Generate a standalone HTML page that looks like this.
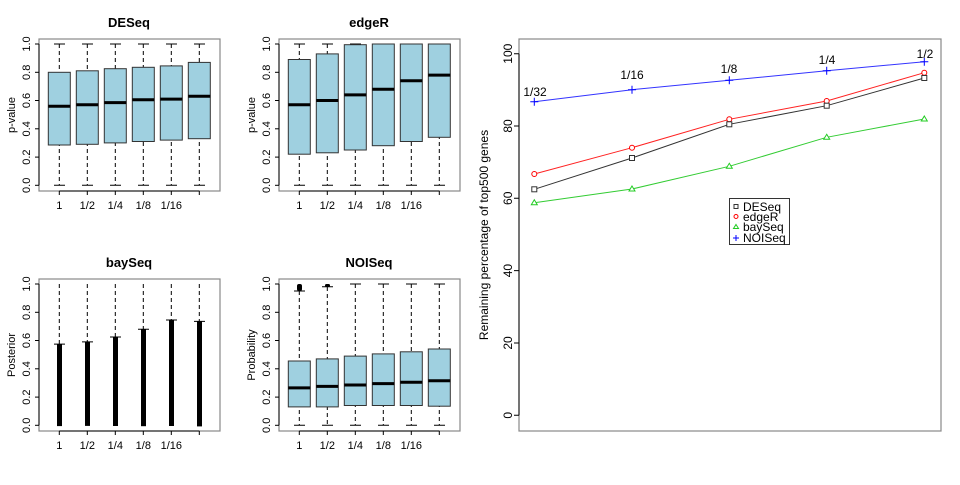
<!DOCTYPE html>
<html><head><meta charset="utf-8"><style>
html,body{margin:0;padding:0;background:#fff}
text{font-family:"Liberation Sans",Arial,sans-serif}
</style></head><body>
<svg width="960" height="480" viewBox="0 0 960 480" xmlns="http://www.w3.org/2000/svg">
<defs>
<g id="frame">
  <rect x="39" y="39" width="181" height="152" fill="none" stroke="#888" stroke-width="1.2"/>
  <g stroke="#000" stroke-width="1">
    <line x1="39" y1="44" x2="39" y2="185.3"/>
    <line x1="35" y1="44" x2="39" y2="44"/><line x1="35" y1="72.3" x2="39" y2="72.3"/>
    <line x1="35" y1="100.5" x2="39" y2="100.5"/><line x1="35" y1="128.8" x2="39" y2="128.8"/>
    <line x1="35" y1="157.1" x2="39" y2="157.1"/><line x1="35" y1="185.3" x2="39" y2="185.3"/>
    <line x1="59.3" y1="191" x2="199.3" y2="191"/>
    <line x1="59.3" y1="191" x2="59.3" y2="195"/><line x1="87.3" y1="191" x2="87.3" y2="195"/>
    <line x1="115.3" y1="191" x2="115.3" y2="195"/><line x1="143.3" y1="191" x2="143.3" y2="195"/>
    <line x1="171.3" y1="191" x2="171.3" y2="195"/><line x1="199.3" y1="191" x2="199.3" y2="195"/>
  </g>
  <g font-size="11" text-anchor="middle" fill="#000">
    <text transform="translate(30,44) rotate(-90)">1.0</text>
    <text transform="translate(30,72.3) rotate(-90)">0.8</text>
    <text transform="translate(30,100.5) rotate(-90)">0.6</text>
    <text transform="translate(30,128.8) rotate(-90)">0.4</text>
    <text transform="translate(30,157.1) rotate(-90)">0.2</text>
    <text transform="translate(30,185.3) rotate(-90)">0.0</text>
    <text x="59.3" y="209">1</text><text x="87.3" y="209">1/2</text>
    <text x="115.3" y="209">1/4</text><text x="143.3" y="209">1/8</text>
    <text x="171.3" y="209">1/16</text>
  </g>
</g>
</defs>

<!-- DESeq -->
<g>
<use href="#frame"/>
<text x="129" y="27" font-size="13" font-weight="bold" text-anchor="middle">DESeq</text>
<text transform="translate(15,115) rotate(-90)" font-size="11" text-anchor="middle">p-value</text>
<g stroke="#000" stroke-width="1" stroke-dasharray="4,3">
<line x1="59.3" y1="44" x2="59.3" y2="185.3"/><line x1="87.3" y1="44" x2="87.3" y2="185.3"/>
<line x1="115.3" y1="44" x2="115.3" y2="185.3"/><line x1="143.3" y1="44" x2="143.3" y2="185.3"/>
<line x1="171.3" y1="44" x2="171.3" y2="185.3"/><line x1="199.3" y1="44" x2="199.3" y2="185.3"/>
</g>
<g stroke="#000" stroke-width="1">
<path d="M54 44h11M54 185.3h11M82 44h11M82 185.3h11M110 44h11M110 185.3h11M138 44h11M138 185.3h11M166 44h11M166 185.3h11M194 44h11M194 185.3h11"/>
</g>
<g fill="#9fd0e0" stroke="#333" stroke-width="1">
<rect x="48.3" y="72.3" width="22" height="72.7"/>
<rect x="76.3" y="70.8" width="22" height="73.5"/>
<rect x="104.3" y="68.7" width="22" height="74.2"/>
<rect x="132.3" y="67.3" width="22" height="74.2"/>
<rect x="160.3" y="65.9" width="22" height="74.2"/>
<rect x="188.3" y="62.4" width="22" height="76.3"/>
</g>
<g stroke="#000" stroke-width="3">
<path d="M48.3 106.2h22M76.3 104.8h22M104.3 102.6h22M132.3 99.8h22M160.3 99.1h22M188.3 96.3h22"/>
</g>
</g>

<!-- edgeR -->
<g transform="translate(240,0)">
<use href="#frame"/>
<text x="129" y="27" font-size="13" font-weight="bold" text-anchor="middle">edgeR</text>
<text transform="translate(15,115) rotate(-90)" font-size="11" text-anchor="middle">p-value</text>
<g stroke="#000" stroke-width="1" stroke-dasharray="4,3">
<line x1="59.3" y1="44" x2="59.3" y2="185.3"/><line x1="87.3" y1="44" x2="87.3" y2="185.3"/>
<line x1="115.3" y1="44" x2="115.3" y2="185.3"/><line x1="143.3" y1="44" x2="143.3" y2="185.3"/>
<line x1="171.3" y1="44" x2="171.3" y2="185.3"/><line x1="199.3" y1="44" x2="199.3" y2="185.3"/>
</g>
<g stroke="#000" stroke-width="1">
<path d="M54 44h11M54 185.3h11M82 44h11M82 185.3h11M110 44h11M110 185.3h11M138 44h11M138 185.3h11M166 44h11M166 185.3h11M194 44h11M194 185.3h11"/>
</g>
<g fill="#9fd0e0" stroke="#333" stroke-width="1">
<rect x="48.3" y="59.5" width="22" height="94.7"/>
<rect x="76.3" y="53.9" width="22" height="98.9"/>
<rect x="104.3" y="44.7" width="22" height="105.3"/>
<rect x="132.3" y="44" width="22" height="101.7"/>
<rect x="160.3" y="44" width="22" height="97.5"/>
<rect x="188.3" y="44" width="22" height="93.3"/>
</g>
<g stroke="#000" stroke-width="3">
<path d="M48.3 104.8h22M76.3 100.5h22M104.3 94.9h22M132.3 89.2h22M160.3 80.7h22M188.3 75.1h22"/>
</g>
</g>

<!-- baySeq -->
<g transform="translate(0,240)">
<use href="#frame"/>
<text x="129" y="27" font-size="13" font-weight="bold" text-anchor="middle">baySeq</text>
<text transform="translate(15,115) rotate(-90)" font-size="11" text-anchor="middle">Posterior</text>
<g stroke="#000" stroke-width="1" stroke-dasharray="4,3">
<line x1="59.3" y1="44" x2="59.3" y2="104"/><line x1="87.3" y1="44" x2="87.3" y2="102"/>
<line x1="115.3" y1="44" x2="115.3" y2="97"/><line x1="143.3" y1="44" x2="143.3" y2="89"/>
<line x1="171.3" y1="44" x2="171.3" y2="80"/><line x1="199.3" y1="44" x2="199.3" y2="81"/>
</g>
<g fill="#000">
<rect x="57" y="104.1" width="5" height="82"/>
<rect x="85" y="101.9" width="5" height="84"/>
<rect x="113" y="97" width="5" height="89"/>
<rect x="141" y="89.2" width="5" height="97"/>
<rect x="169" y="80" width="5" height="106"/>
<rect x="197" y="81.4" width="5" height="105"/>
</g>
<g stroke="#000" stroke-width="1">
<path d="M54 104.1h11M82 101.9h11M110 97h11M138 89.2h11M166 80h11M194 81.4h11"/>
</g>
</g>

<!-- NOISeq -->
<g transform="translate(240,240)">
<use href="#frame"/>
<text x="129" y="27" font-size="13" font-weight="bold" text-anchor="middle">NOISeq</text>
<text transform="translate(15,115) rotate(-90)" font-size="11" text-anchor="middle">Probability</text>
<g stroke="#000" stroke-width="1" stroke-dasharray="4,3">
<line x1="59.3" y1="51" x2="59.3" y2="185.3"/><line x1="87.3" y1="47" x2="87.3" y2="185.3"/>
<line x1="115.3" y1="44" x2="115.3" y2="185.3"/><line x1="143.3" y1="44" x2="143.3" y2="185.3"/>
<line x1="171.3" y1="44" x2="171.3" y2="185.3"/><line x1="199.3" y1="44" x2="199.3" y2="185.3"/>
</g>
<g stroke="#000" stroke-width="1">
<path d="M54 51h11M54 185.3h11M82 46.8h11M82 185.3h11M110 44h11M110 185.3h11M138 44h11M138 185.3h11M166 44h11M166 185.3h11M194 44h11M194 185.3h11"/>
</g>
<rect x="57" y="44" width="5" height="7" fill="#000" rx="2"/>
<rect x="85" y="44" width="5" height="3" fill="#000" rx="1.5"/>
<g fill="#9fd0e0" stroke="#333" stroke-width="1">
<rect x="48.3" y="121" width="22" height="45.9"/>
<rect x="76.3" y="118.9" width="22" height="48"/>
<rect x="104.3" y="116.1" width="22" height="49.4"/>
<rect x="132.3" y="113.9" width="22" height="51.6"/>
<rect x="160.3" y="111.8" width="22" height="53.7"/>
<rect x="188.3" y="109" width="22" height="57.2"/>
</g>
<g stroke="#000" stroke-width="3">
<path d="M48.3 147.9h22M76.3 146.4h22M104.3 145h22M132.3 143.6h22M160.3 142.2h22M188.3 140.8h22"/>
</g>
</g>

<!-- Right plot -->
<rect x="519" y="39" width="422" height="392" fill="none" stroke="#888" stroke-width="1.2"/>
<g stroke="#000" stroke-width="1">
<line x1="519" y1="53.7" x2="519" y2="415.3"/>
<path d="M514 53.7h5M514 126h5M514 198.3h5M514 270.6h5M514 343h5M514 415.3h5"/>
</g>
<g font-size="12" text-anchor="middle">
<text transform="translate(512,53.7) rotate(-90)">100</text>
<text transform="translate(512,126) rotate(-90)">80</text>
<text transform="translate(512,198.3) rotate(-90)">60</text>
<text transform="translate(512,270.6) rotate(-90)">40</text>
<text transform="translate(512,343) rotate(-90)">20</text>
<text transform="translate(512,415.3) rotate(-90)">0</text>
<text transform="translate(488,235) rotate(-90)">Remaining percentage of top500 genes</text>
</g>
<polyline fill="none" stroke="#3333ff" stroke-width="1" points="534.3,101.7 632,89.7 729.3,80.3 826.7,70.7 924.3,61.7"/>
<polyline fill="none" stroke="#ff2222" stroke-width="1" points="534.3,174 632,147.7 729.3,119.3 826.7,101 924.3,72.7"/>
<polyline fill="none" stroke="#333" stroke-width="1" points="534.3,189.3 632,158 729.3,124.3 826.7,105.7 924.3,78"/>
<polyline fill="none" stroke="#33cc33" stroke-width="1" points="534.3,202.7 632,189 729.3,166.3 826.7,137.3 924.3,119"/>
<g stroke="#0000ff" stroke-width="1">
<path d="M530.3 101.7h8M534.3 97.7v8M628 89.7h8M632 85.7v8M725.3 80.3h8M729.3 76.3v8M822.7 70.7h8M826.7 66.7v8M920.3 61.7h8M924.3 57.7v8"/>
</g>
<g fill="#fff" stroke="#ff0000" stroke-width="1">
<circle cx="534.3" cy="174" r="2.5"/><circle cx="632" cy="147.7" r="2.5"/><circle cx="729.3" cy="119.3" r="2.5"/><circle cx="826.7" cy="101" r="2.5"/><circle cx="924.3" cy="72.7" r="2.5"/>
</g>
<g fill="#fff" stroke="#333" stroke-width="1">
<rect x="531.8" y="186.8" width="5" height="5"/><rect x="629.5" y="155.5" width="5" height="5"/><rect x="726.8" y="121.8" width="5" height="5"/><rect x="824.2" y="103.2" width="5" height="5"/><rect x="921.8" y="75.5" width="5" height="5"/>
</g>
<g fill="#fff" stroke="#22cc22" stroke-width="1">
<path d="M534.3 199.7l3 5h-6zM632 186l3 5h-6zM729.3 163.3l3 5h-6zM826.7 134.3l3 5h-6zM924.3 116l3 5h-6z"/>
</g>
<g font-size="12" text-anchor="middle">
<text x="535" y="96">1/32</text>
<text x="632" y="79">1/16</text>
<text x="729" y="73">1/8</text>
<text x="827" y="64">1/4</text>
<text x="925" y="58">1/2</text>
</g>
<rect x="729.5" y="198.5" width="60" height="46" fill="#fff" stroke="#333" stroke-width="1"/>
<rect x="734" y="204.5" width="4" height="4" fill="none" stroke="#333"/>
<circle cx="736" cy="216.5" r="2" fill="none" stroke="#f00"/>
<path d="M736 224.5l2.5 4h-5z" fill="none" stroke="#2c2"/>
<path d="M733 238h6M736 235v6" stroke="#00f"/>
<g font-size="12">
<text x="743" y="211">DESeq</text>
<text x="743" y="221">edgeR</text>
<text x="743" y="231">baySeq</text>
<text x="743" y="242">NOISeq</text>
</g>
</svg>
</body></html>
